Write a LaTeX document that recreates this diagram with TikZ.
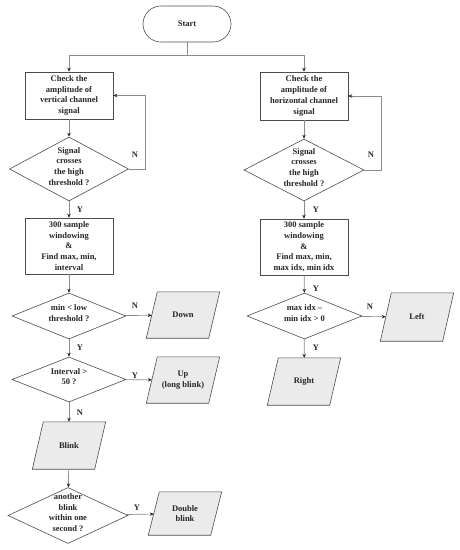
\documentclass[tikz,border=0pt]{standalone}
\usepackage{fontspec}
\setmainfont{Liberation Serif}
\usetikzlibrary{shapes.geometric,shapes.misc,arrows.meta,backgrounds}
\newcommand{\ztext}[1]{\makebox[0pt]{\smash{\begin{tabular}{@{}c@{}}#1\end{tabular}}}}
\newcommand{\iobox}[5]{%
  \node[iob, minimum height=#4pt] (#1) at (#2,#3) {#5};
  \begin{pgfonlayer}{background}
  \draw[iodraw] ([xshift=-5.5pt]#1.south west) -- ([xshift=5.5pt]#1.north west) -- ([xshift=5.5pt]#1.north east) -- ([xshift=-5.5pt]#1.south east) -- cycle;
  \end{pgfonlayer}}
\tikzset{
  x=1pt,y=-1pt,
  every node/.style={font=\fontsize{8.5}{10.7}\selectfont\bfseries, text=black!85},
  box/.style={draw=black!70, line width=0.6pt, rectangle, inner sep=0pt, align=center},
  dia/.style={draw=black!70, line width=0.6pt, diamond, inner sep=0pt},
  iob/.style={rectangle, inner sep=0pt, minimum width=62pt, align=center},
  iodraw/.style={draw=black!70, line width=0.6pt, fill=black!8},
  startbox/.style={draw=black!70, line width=0.6pt, rounded rectangle, minimum width=88pt, minimum height=36pt, inner sep=0pt},
  conn/.style={draw=black!45, line width=0.7pt, -{Stealth[length=4pt,width=3.5pt,color=black!85]}},
  plain/.style={draw=black!45, line width=0.7pt},
  lab/.style={inner sep=0pt}
}
\begin{document}
\begin{tikzpicture}
\useasboundingbox (0,0) rectangle (460,550);
\node[startbox] (start) at (187,24) {Start};
% left column
\node[box, minimum width=88pt, minimum height=47pt] (b1) at (69,95.5) {Check the\\amplitude of\\vertical channel\\signal};
\node[dia, minimum width=119pt, minimum height=64pt] (d1) at (69,169) {\ztext{Signal\\crosses\\the high\\threshold ?}};
\node[box, minimum width=88pt, minimum height=56pt] (b2) at (69,246) {300 sample\\windowing\\\&\\Find max, min,\\interval};
\node[dia, minimum width=114pt, minimum height=46pt] (d2) at (69,316) {\ztext{min {\char"3C} low\\threshold ?}};
\iobox{down}{183}{315}{46}{Down}
\node[dia, minimum width=114pt, minimum height=45pt] (d3) at (69,379.5) {\ztext{Interval >\\50 ?}};
\iobox{up}{183}{380}{46}{Up\\(long blink)}
\iobox{blink}{69}{445.5}{47}{Blink}
\node[dia, minimum width=120pt, minimum height=56pt] (d4) at (68,515.5) {\ztext{another\\blink\\within one\\second ?}};
\iobox{dbl}{185}{513.5}{43}{Double\\blink}
% right column
\node[box, minimum width=88pt, minimum height=48pt] (rb1) at (304,96) {Check the\\amplitude of\\horizontal channel\\signal};
\node[dia, minimum width=120pt, minimum height=62pt] (rd1) at (304,170) {\ztext{Signal\\crosses\\the high\\threshold ?}};
\node[box, minimum width=88pt, minimum height=56pt] (rb2) at (304,247) {300 sample\\windowing\\\&\\Find max, min,\\max idx, min idx};
\node[dia, minimum width=115pt, minimum height=46pt] (rd2) at (304.5,316) {\ztext{max idx --\\min idx > 0}};
\iobox{left}{417}{317}{48}{Left}
\iobox{right}{304}{381.5}{47}{Right}
% connectors
\draw[plain] (start.south) -- ++(0,13) coordinate (split);
\draw[conn] (split) -| (b1.north);
\draw[conn] (split) -| (rb1.north);
\draw[conn] (b1) -- (d1);
\draw[conn] (d1.east) -- ++(17,0) |- (b1.east);
\draw[conn] (d1) -- (b2);
\draw[conn] (b2) -- (d2);
\draw[conn] (d2) -- (down);
\draw[conn] (d2) -- (d3);
\draw[conn] (d3) -- (up);
\draw[conn] (d3) -- (blink);
\draw[conn] (blink) -- (d4);
\draw[conn] (d4) -- (dbl);
\draw[conn] (rb1) -- (rd1);
\draw[conn] (rd1.east) -- ++(17,0) |- (rb1.east);
\draw[conn] (rd1) -- (rb2);
\draw[conn] (rb2) -- (rd2);
\draw[conn] (rd2) -- (left);
\draw[conn] (rd2) -- (right);
% labels
\node[lab] (l1) at (135,155) {N};
\node[lab] (l2) at (80,210) {Y};
\node[lab] (l3) at (371,155) {N};
\node[lab] (l4) at (316,210) {Y};
\node[lab] (l5) at (135,306) {N};
\node[lab] (l6) at (80,348) {Y};
\node[lab] (l7) at (135,376) {Y};
\node[lab] (l8) at (80,413) {N};
\node[lab] (l9) at (137,508) {Y};
\node[lab] (l10) at (316,289) {Y};
\node[lab] (l11) at (370,307) {N};
\node[lab] (l12) at (316,348) {Y};
\end{tikzpicture}
\end{document}
